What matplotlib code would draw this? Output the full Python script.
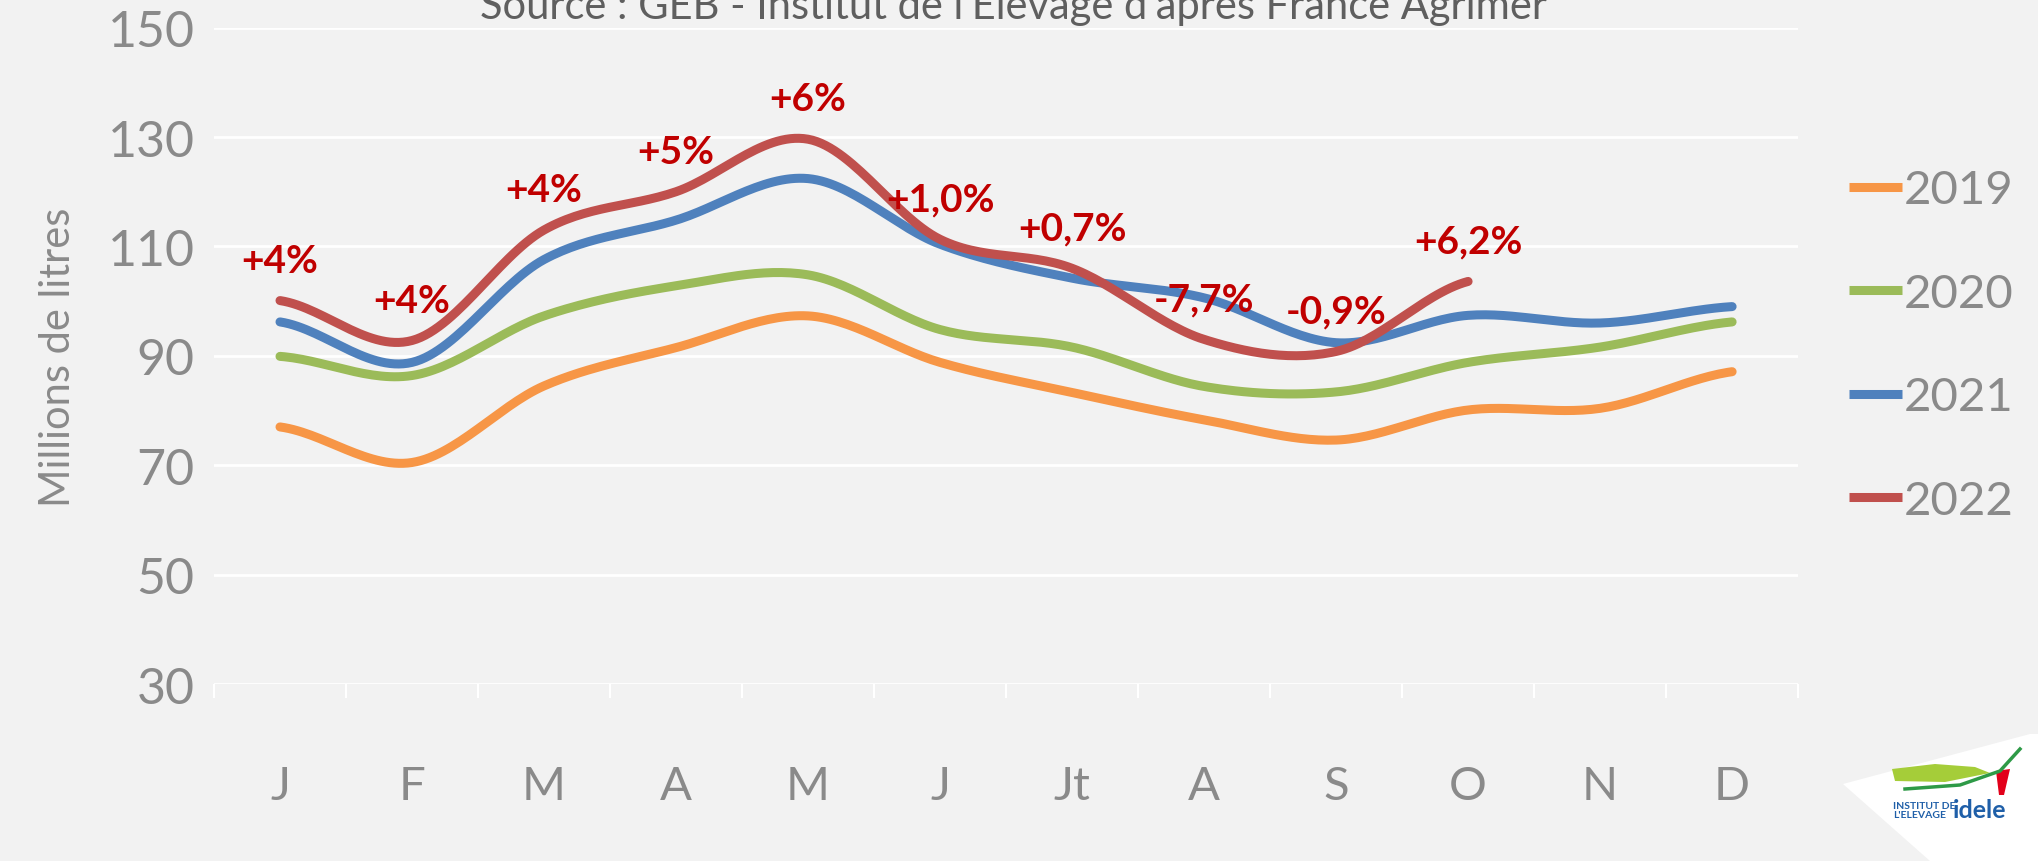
import numpy as np
import matplotlib
matplotlib.use("Agg")
import matplotlib.pyplot as plt
from matplotlib.patches import Polygon

plt.rcParams['font.family'] = ['Lato', 'DejaVu Sans']

# monthly deliveries, millions of litres
months = ['J', 'F', 'M', 'A', 'M', 'J', 'Jt', 'A', 'S', 'O', 'N', 'D']
v2019 = [77, 70.5, 84.5, 91.5, 97.3, 88.8, 83.3, 78.3, 74.6, 80.1, 80.4, 87.1]
v2020 = [89.9, 86.4, 97.3, 102.8, 104.8, 94.8, 91.6, 84.4, 83.4, 88.8, 91.6, 96.2]
v2021 = [96.2, 88.8, 107.6, 114.8, 122.4, 110.4, 104.2, 100.6, 92.4, 97.4, 96.0, 99.0]
v2022 = [100.1, 92.8, 113.0, 120.0, 129.6, 111.3, 106.0, 93.0, 90.8, 103.6]
labels_2022 = ['+4%', '+4%', '+4%', '+5%', '+6%', '+1,0%', '+0,7%', '-7,7%', '-0,9%', '+6,2%']

series = [('2019', v2019, '#F79646'), ('2020', v2020, '#9BBB59'),
          ('2021', v2021, '#4F81BD'), ('2022', v2022, '#C0504D')]
grey = '#8a8a8a'


def smooth(y, n=30):
    # catmull-rom curve through the points, like excel's smoothed lines
    y = np.asarray(y, float)
    p = np.concatenate([[y[0]], y, [y[-1]]])
    xs, ys = [], []
    for i in range(len(y) - 1):
        t = np.linspace(0, 1, n, endpoint=False)
        p0, p1, p2, p3 = p[i], p[i + 1], p[i + 2], p[i + 3]
        yy = 0.5 * ((2 * p1) + (-p0 + p2) * t + (2 * p0 - 5 * p1 + 4 * p2 - p3) * t ** 2
                    + (-p0 + 3 * p1 - 3 * p2 + p3) * t ** 3)
        xs.append(i + t)
        ys.append(yy)
    xs.append([len(y) - 1])
    ys.append([y[-1]])
    return np.concatenate(xs), np.concatenate(ys)


fig = plt.figure(figsize=(20.38, 8.62), dpi=100)
fig.patch.set_facecolor('#f2f2f2')
ax = fig.add_axes([0.105, 0.2053, 0.7773, 0.7615])
ax.set_facecolor('#f2f2f2')

for name, vals, col in series:
    sx, sy = smooth(vals)
    ax.plot(sx, sy, color=col, lw=6.5, solid_capstyle='round', label=name, zorder=3)

for i, lab in enumerate(labels_2022):
    ax.annotate(lab, (i, v2022[i]), xytext=(0, 29), textcoords='offset points',
                ha='center', va='center', color='#C00000', fontsize=28,
                fontweight='bold', zorder=5)

ax.set_ylim(30, 150)
ax.set_yticks(np.arange(30, 151, 20))
ax.set_xlim(-0.5, len(months) - 0.5)
ax.set_xticks(range(len(months)))
ax.set_xticklabels(months)
ax.set_xticks(np.arange(-0.5, len(months)), minor=True)
ax.grid(axis='y', color='white', lw=2, zorder=1)
for s in ax.spines.values():
    s.set_visible(False)
ax.tick_params(axis='x', which='major', length=0, pad=58, labelsize=34, labelcolor=grey)
ax.tick_params(axis='x', which='minor', length=10, width=1.5, color='white')
ax.tick_params(axis='y', length=0, pad=14, labelsize=36, labelcolor=grey)
ax.set_ylabel('Millions de litres', fontsize=30, color=grey, labelpad=22)

fig.text(0.4975, 0.978, "Source : GEB - Institut de l'Elevage d'après France Agrimer",
         ha='center', va='baseline', fontsize=30, color='#5f5f5f')

leg = ax.legend(loc='center left', bbox_to_anchor=(0.9075, 0.598),
                bbox_transform=fig.transFigure, frameon=False, fontsize=34,
                handlelength=1.12, handletextpad=0.03, labelspacing=1.3,
                borderpad=0, borderaxespad=0)
for t in leg.get_texts():
    t.set_color(grey)
for h in leg.get_lines():
    h.set_solid_capstyle('butt')

# idele logo block, bottom right
tf = fig.transFigure
W, H = 2038.0, 862.0
fig.patches.append(Polygon([(1843 / W, 1 - 785 / H), (2030 / W, 1 - 735 / H),
                            (1, 1 - 735 / H), (1, 0), (1930 / W, 0)],
                           closed=True, transform=tf, facecolor='white', edgecolor='none'))
fig.patches.append(Polygon([(1892 / W, 1 - 770 / H), (1935 / W, 1 - 765 / H),
                            (1975 / W, 1 - 768 / H), (1990 / W, 1 - 774 / H),
                            (1945 / W, 1 - 783 / H), (1895 / W, 1 - 782 / H)],
                           closed=True, transform=tf, facecolor='#a5cd39', edgecolor='none'))
fig.lines.append(plt.Line2D([1905 / W, 1960 / W, 2000 / W, 2020 / W],
                            [1 - 790 / H, 1 - 786 / H, 1 - 772 / H, 1 - 750 / H],
                            transform=tf, color='#2e9a47', lw=2.5))
fig.patches.append(Polygon([(1996 / W, 1 - 772 / H), (2010 / W, 1 - 770 / H),
                            (2004 / W, 1 - 796 / H), (1999 / W, 1 - 796 / H)],
                           closed=True, transform=tf, facecolor='#e2001a', edgecolor='none'))
fig.text(1893 / W, 1 - 811 / H, "INSTITUT DE\nL'ELEVAGE", fontsize=7.5,
         fontweight='bold', color='#1f5fa8', ha='left', va='center', linespacing=1.0)
fig.text(1953 / W, 1 - 811 / H, "idele", fontsize=18, fontweight='bold',
         color='#1f5fa8', ha='left', va='center')

fig.savefig('out.png', dpi=100, facecolor=fig.get_facecolor())
